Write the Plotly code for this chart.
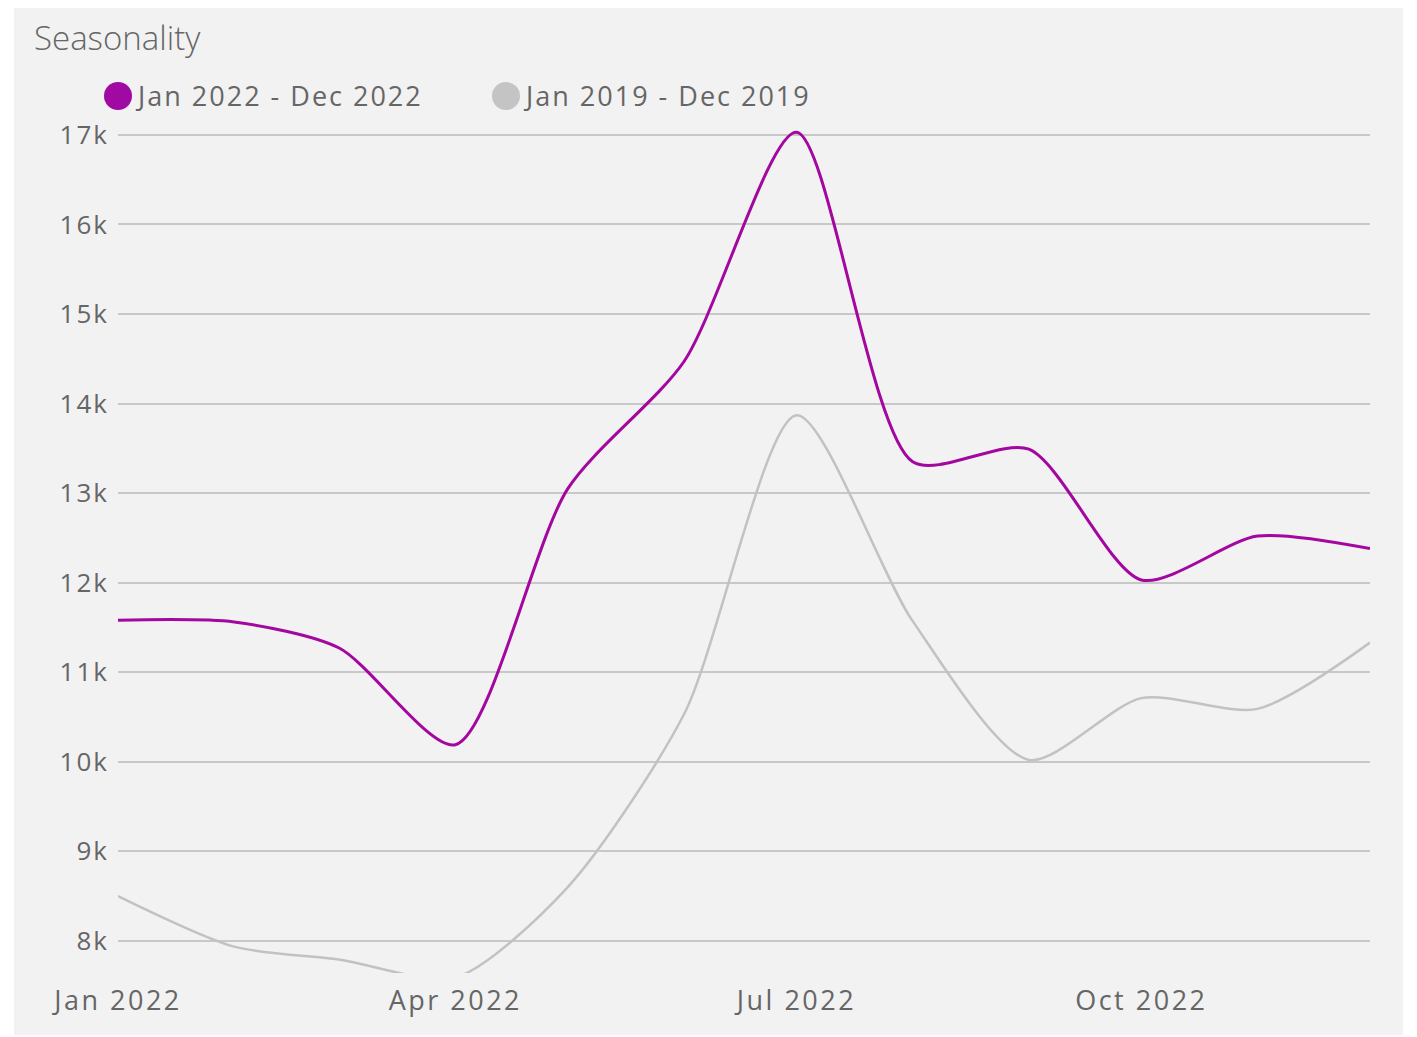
import plotly.graph_objects as go

# ---- data ----
months = ["2022-01-01", "2022-02-01", "2022-03-01", "2022-04-01", "2022-05-01", "2022-06-01",
          "2022-07-01", "2022-08-01", "2022-09-01", "2022-10-01", "2022-11-01", "2022-12-01"]
series_2022 = [11580, 11560, 11270, 10190, 13050, 14470, 17030, 13350, 13490, 12030, 12520, 12380]
series_2019 = [8500, 7935, 7790, 7590, 8600, 10530, 13870, 11570, 10020, 10710, 10590, 11330]
series_names = ["Jan 2022 - Dec 2022", "Jan 2019 - Dec 2019"]
series_colors = ["#a3079f", "#c2c2c2"]
legend_colors = ["#a00aa2", "#c4c4c4"]
title_text = "Seasonality"
x_tick_vals = ["2022-01-01", "2022-04-01", "2022-07-01", "2022-10-01"]
x_tick_labels = ["Jan 2022", "Apr 2022", "Jul 2022", "Oct 2022"]
y_tick_vals = [8000, 9000, 10000, 11000, 12000, 13000, 14000, 15000, 16000, 17000]
y_tick_labels = ["8k", "9k", "10k", "11k", "12k", "13k", "14k", "15k", "16k", "17k"]

W, H = 1417, 1037
OFF = 8  # page body margin offset
ML, MR, MT, MB = 118 - OFF, W - (1370 - OFF), 126 - OFF, H - (973 - OFF)
PW, PH = W - ML - MR, H - MT - MB


def px_x(x):
    return (x - OFF - ML) / PW


def px_y(y):
    return (H - MB - (y - OFF)) / PH


def spaced(t, s=2.5):
    return f'<span style="letter-spacing:{s}px">{t}</span>'


FONT = "Open Sans"
TXT = "#666666"
SMOOTH = 0.75

fig = go.Figure()
fig.add_trace(go.Scatter(x=months, y=series_2019, mode="lines", name=series_names[1],
                         line=dict(color=series_colors[1], width=2.5, shape="spline", smoothing=SMOOTH),
                         showlegend=False, hoverinfo="skip"))
fig.add_trace(go.Scatter(x=months, y=series_2022, mode="lines", name=series_names[0],
                         line=dict(color=series_colors[0], width=3, shape="spline", smoothing=SMOOTH),
                         showlegend=False, hoverinfo="skip"))

shapes = [dict(type="rect", xref="paper", yref="paper",
               x0=px_x(14), x1=px_x(1403), y0=px_y(1035), y1=px_y(5),
               fillcolor="#f2f2f2", line=dict(width=0), layer="below")]
annotations = []
legend_x = [118, 506]
for i, name in enumerate(series_names):
    shapes.append(dict(type="circle", xref="paper", yref="paper",
                       xsizemode="pixel", ysizemode="pixel",
                       xanchor=px_x(legend_x[i]), yanchor=px_y(96),
                       x0=-14, x1=14, y0=-14, y1=14,
                       fillcolor=legend_colors[i], line=dict(width=0)))
    annotations.append(dict(text=spaced(name, 2.0), xref="paper", yref="paper",
                            x=px_x(legend_x[i] + 15), y=px_y(96), xanchor="left", yanchor="middle",
                            showarrow=False, font=dict(family=FONT, size=27, color=TXT)))

fig.update_layout(
    width=W, height=H,
    margin=dict(l=ML, r=MR, t=MT, b=MB, pad=0),
    paper_bgcolor="white", plot_bgcolor="rgba(0,0,0,0)",
    title=dict(text=title_text, xref="container", yref="container",
               x=(34 - OFF) / W, xanchor="left", y=1 - (38 - OFF) / H, yanchor="middle",
               font=dict(family=FONT, size=33, color=TXT, weight=300)),
    shapes=shapes, annotations=annotations,
    showlegend=False,
    xaxis=dict(type="date", range=[months[0], months[-1]],
               tickvals=x_tick_vals, ticktext=[spaced(t) for t in x_tick_labels],
               showgrid=False, zeroline=False, showline=False, ticks="",
               ticklabelstandoff=9,
               tickfont=dict(family=FONT, size=27, color=TXT)),
    yaxis=dict(range=[7640, 17100], tickvals=y_tick_vals, ticktext=[spaced(t, 2) for t in y_tick_labels],
               showgrid=True, gridcolor="#c8c8c8", gridwidth=2, zeroline=False, showline=False,
               ticks="", ticklabelstandoff=8,
               tickfont=dict(family=FONT, size=26, color=TXT)),
)

fig.write_html("out.html")
